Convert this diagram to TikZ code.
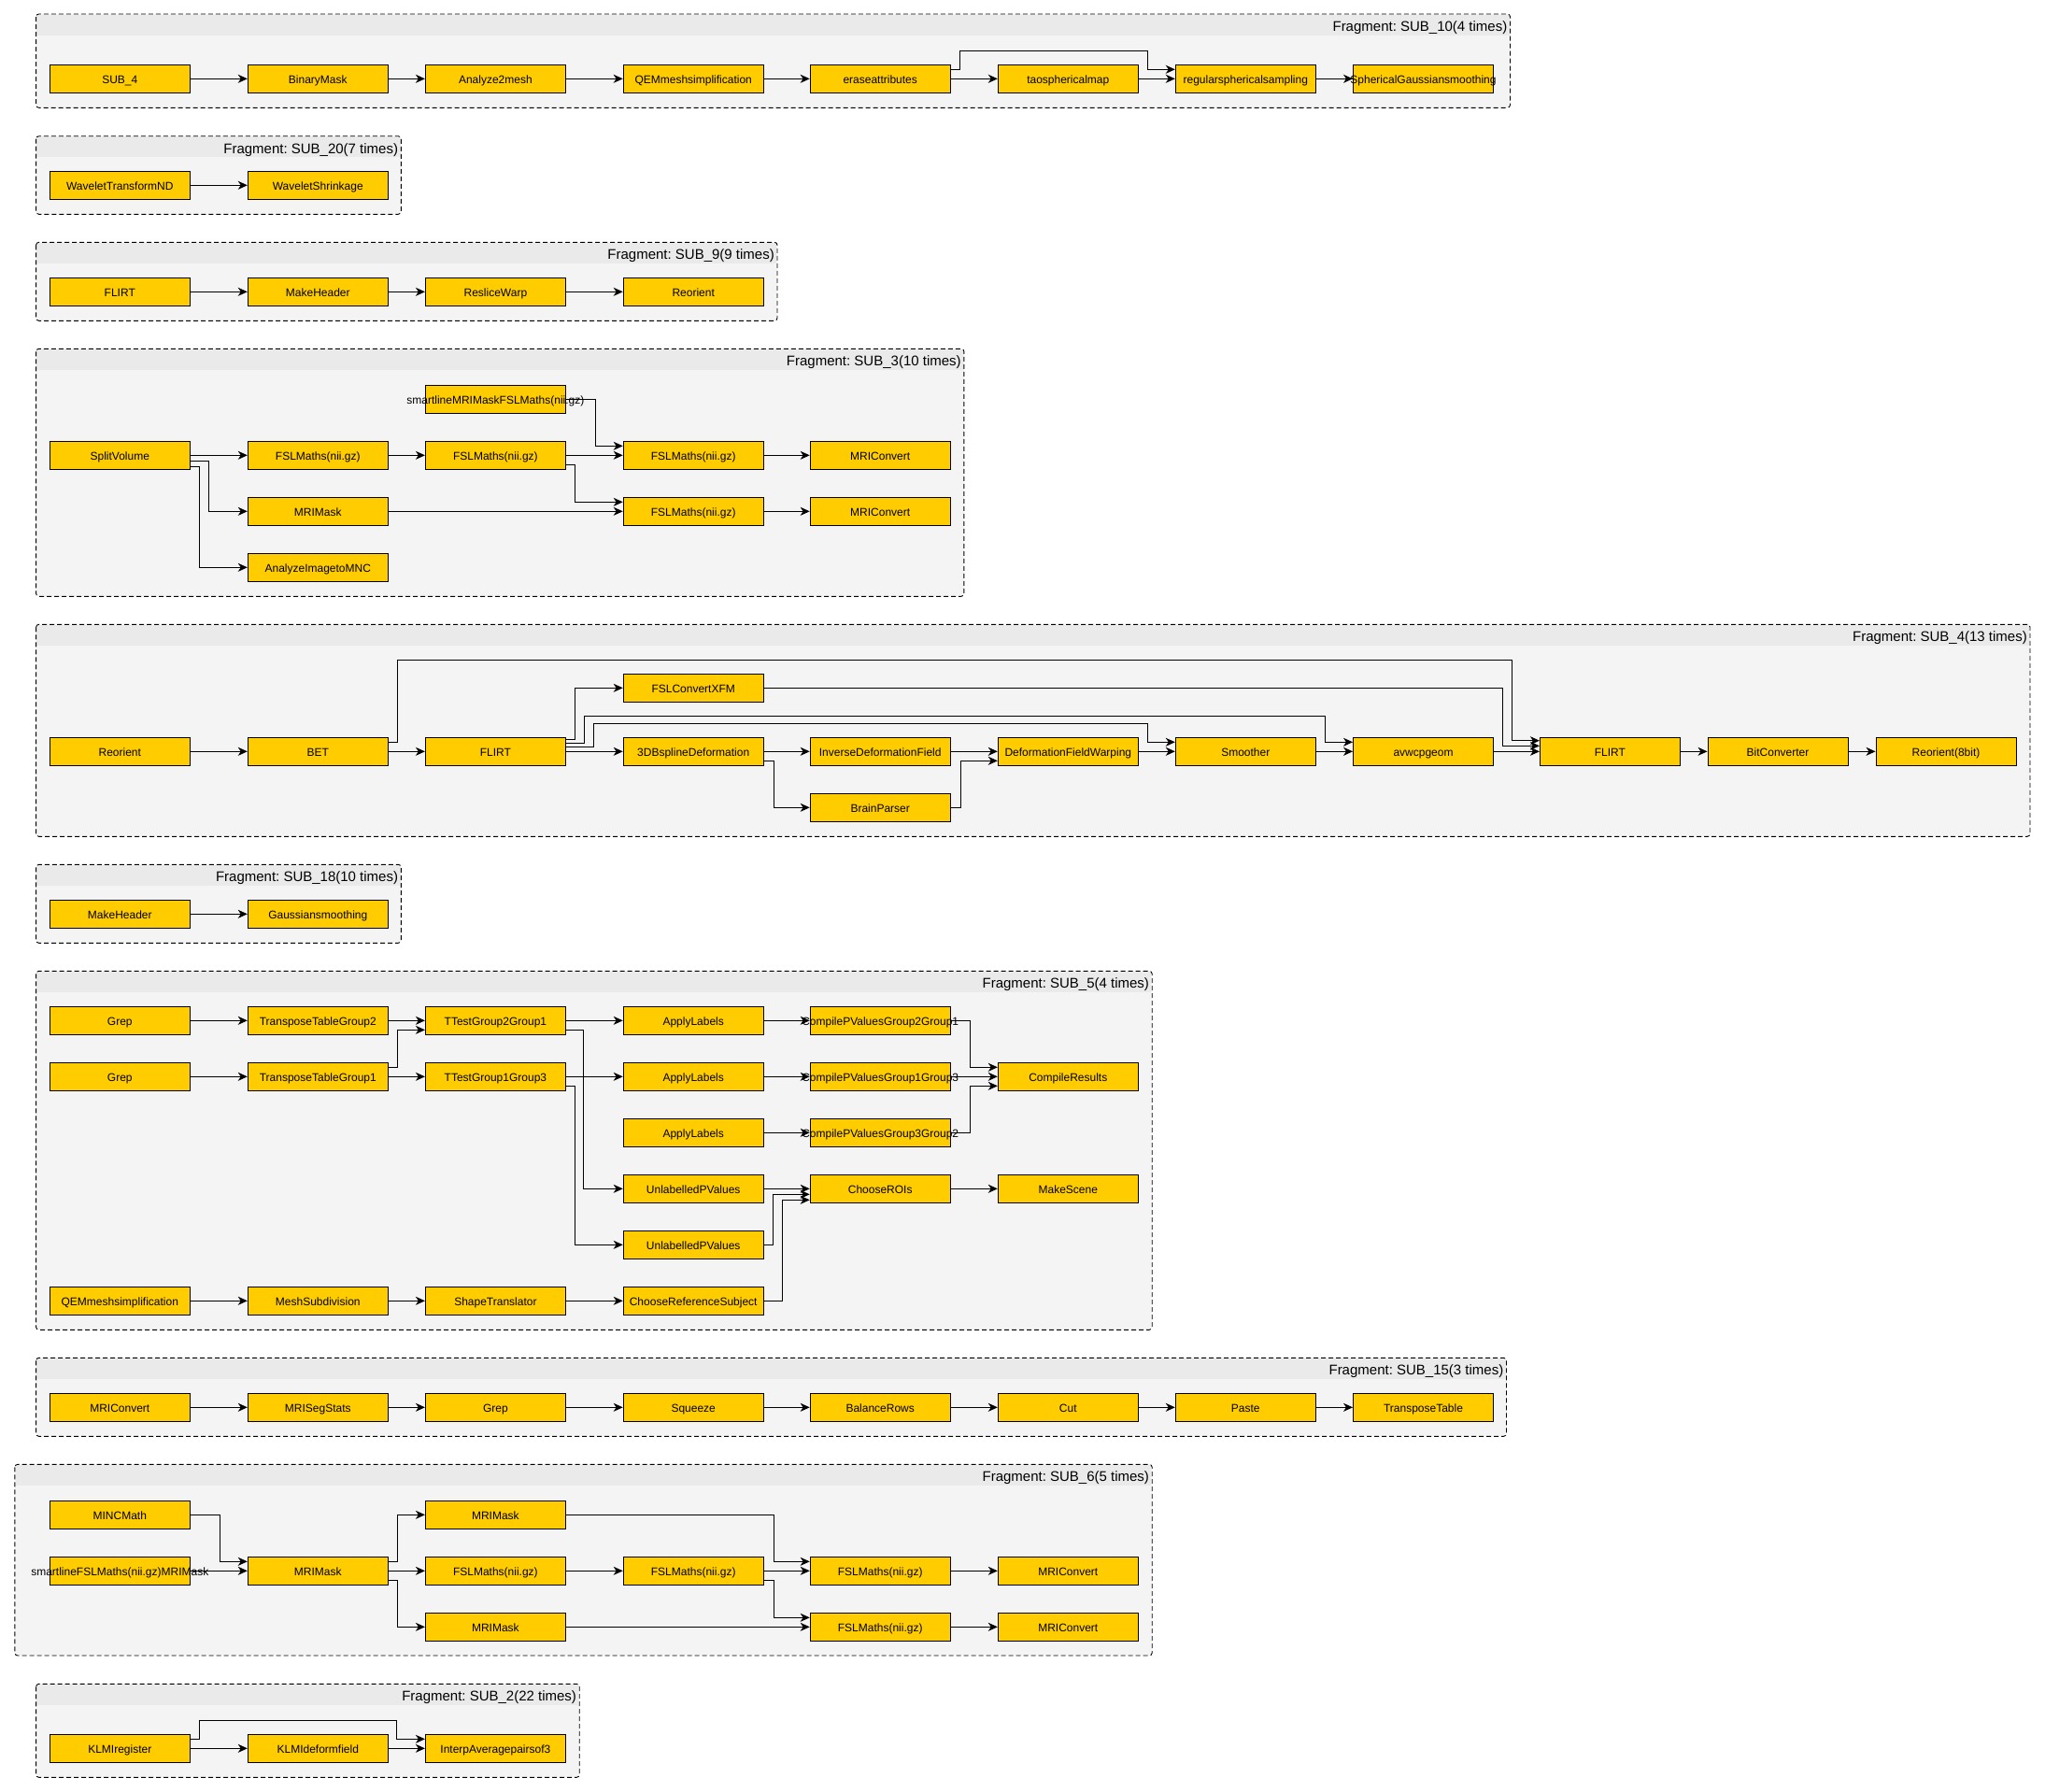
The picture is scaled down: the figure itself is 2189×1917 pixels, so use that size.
\documentclass[tikz,border=0pt]{standalone}
\usepackage{fontspec}
\setmainfont{Liberation Sans}
\usetikzlibrary{arrows.meta}
\definecolor{procfill}{HTML}{FFCC00}
\definecolor{fragfill}{HTML}{F4F4F4}
\definecolor{headfill}{HTML}{EAEAEA}
\frenchspacing

\begin{document}
\begin{tikzpicture}[x=1pt, y=1pt,
    proc/.style = {draw, line width=1pt, fill=procfill, minimum width=150pt, minimum height=30pt, inner sep=0pt,
        text height=9.4pt, text depth=0pt, font=\fontsize{12}{14}\selectfont,
        execute at begin node={\hbox to 0pt\bgroup\hss}, execute at end node={\hss\egroup}},
    flow/.style = {line width=1pt, -{Stealth[length=10pt, width=9pt, inset=3pt]}},
    fragline/.style = {draw, line width=0.9pt, dash pattern=on 5pt off 3pt, rounded corners=3pt},
    fraglbl/.style = {anchor=base east, inner sep=0pt, font=\fontsize{15}{18}\selectfont}]
    \useasboundingbox (0,0) rectangle (2189,-1917);
    % fragment frames
    \foreach \fl/\ft/\fr/\fb/\fn/\ftxt in {
        38.6/15/1616.5/115.3/hsub10/Fragment: SUB\_10(4 times),
        38.6/145.7/429.3/229.3/hsub20/Fragment: SUB\_20(7 times),
        38.6/259.3/832/343.3/hsub9/Fragment: SUB\_9(9 times),
        38.6/373.3/1031.9/638.3/hsub3/Fragment: SUB\_3(10 times),
        38.6/668.3/2173/895.3/hsub4/Fragment: SUB\_4(13 times),
        38.6/925.3/429.3/1009.3/hsub18/Fragment: SUB\_18(10 times),
        38.6/1039.3/1233.2/1423.3/hsub5/Fragment: SUB\_5(4 times),
        38.6/1453.3/1612.5/1537.3/hsub15/Fragment: SUB\_15(3 times),
        15.9/1567.3/1233.2/1772/hsub6/Fragment: SUB\_6(5 times),
        38.6/1802.3/620.2/1902.3/hsub2/Fragment: SUB\_2(22 times)}{
        \fill[fragfill, rounded corners=3pt] (\fl,-\ft) rectangle (\fr,-\fb);
        \fill[headfill] ({\fl+0.8},{-\ft-0.5}) rectangle ({\fr-0.8},{-\ft-22.5});
        \draw[fragline] (\fl,-\ft) rectangle (\fr,-\fb);
        \node[fraglbl] (\fn) at ({\fr-3},{-\ft-18.3}) {\ftxt};
    }

    % SUB_10
    \node[proc] (sub4) at (128.3,-84.3) {SUB\_4};
    \node[proc] (binmask) at (340.3,-84.3) {BinaryMask};
    \node[proc] (a2mesh) at (530.4,-84.3) {Analyze2mesh};
    \node[proc] (qema) at (742.2,-84.3) {QEMmeshsimplification};
    \node[proc] (erasea) at (942.2,-84.3) {eraseattributes};
    \node[proc] (taomap) at (1143.3,-84.3) {taosphericalmap};
    \node[proc] (regsph) at (1333.3,-84.3) {regularsphericalsampling};
    \node[proc] (sphgauss) at (1523.5,-84.3) {SphericalGaussiansmoothing};
    \draw[flow] (sub4) -- (binmask);
    \draw[flow] (binmask) -- (a2mesh);
    \draw[flow] (a2mesh) -- (qema);
    \draw[flow] (qema) -- (erasea);
    \draw[flow] (erasea) -- (taomap);
    \draw[flow] (taomap) -- (regsph);
    \draw[flow] (regsph) -- (sphgauss);
    \draw[flow] ([yshift=10pt]erasea.east) -- ++(9.8,0) |- (1228.2,-54.3) |- ([yshift=10pt]regsph.west);

    % SUB_20
    \node[proc] (wtnd) at (128.3,-198.3) {WaveletTransformND};
    \node[proc] (wshrink) at (340.3,-198.3) {WaveletShrinkage};
    \draw[flow] (wtnd) -- (wshrink);

    % SUB_9
    \node[proc] (flirta) at (128.3,-312.3) {FLIRT};
    \node[proc] (mkhdra) at (340.3,-312.3) {MakeHeader};
    \node[proc] (reslice) at (530.4,-312.3) {ResliceWarp};
    \node[proc] (reora) at (742.2,-312.3) {Reorient};
    \draw[flow] (flirta) -- (mkhdra);
    \draw[flow] (mkhdra) -- (reslice);
    \draw[flow] (reslice) -- (reora);

    % SUB_3
    \node[proc] (smarta) at (530.4,-427.3) {smartlineMRIMaskFSLMaths(nii.gz)};
    \node[proc] (splitv) at (128.3,-487.3) {SplitVolume};
    \node[proc] (fslma) at (340.3,-487.3) {FSLMaths(nii.gz)};
    \node[proc] (fslmb) at (530.4,-487.3) {FSLMaths(nii.gz)};
    \node[proc] (fslmc) at (742.2,-487.3) {FSLMaths(nii.gz)};
    \node[proc] (mricva) at (942.2,-487.3) {MRIConvert};
    \node[proc] (mrimska) at (340.3,-547.3) {MRIMask};
    \node[proc] (fslmd) at (742.2,-547.3) {FSLMaths(nii.gz)};
    \node[proc] (mricvb) at (942.2,-547.3) {MRIConvert};
    \node[proc] (aimnc) at (340.3,-607.3) {AnalyzeImagetoMNC};
    \draw[flow] (splitv) -- (fslma);
    \draw[flow] ([yshift=-6.4pt]splitv.east) -- ++(19.6,0) |- (mrimska);
    \draw[flow] ([yshift=-12.4pt]splitv.east) -- ++(10,0) |- (aimnc);
    \draw[flow] (fslma) -- (fslmb);
    \draw[flow] (fslmb) -- (fslmc);
    \draw[flow] (smarta.east) -- ++(31.6,0) |- ([yshift=10pt]fslmc.west);
    \draw[flow] ([yshift=-10pt]fslmb.east) -- ++(9.8,0) |- ([yshift=10pt]fslmd.west);
    \draw[flow] (mrimska) -- (fslmd);
    \draw[flow] (fslmc) -- (mricva);
    \draw[flow] (fslmd) -- (mricvb);

    % SUB_4
    \node[proc] (fslxfm) at (742.2,-736.3) {FSLConvertXFM};
    \node[proc] (reorb) at (128.3,-804.3) {Reorient};
    \node[proc] (bet) at (340.3,-804.3) {BET};
    \node[proc] (flirtb) at (530.4,-804.3) {FLIRT};
    \node[proc] (tdbs) at (742.2,-804.3) {3DBsplineDeformation};
    \node[proc] (invdef) at (942.2,-804.3) {InverseDeformationField};
    \node[proc] (dfwarp) at (1143.3,-804.3) {DeformationFieldWarping};
    \node[proc] (smoother) at (1333.3,-804.3) {Smoother};
    \node[proc] (avw) at (1523.5,-804.3) {avwcpgeom};
    \node[proc] (flirtc) at (1723.4,-804.3) {FLIRT};
    \node[proc] (bitconv) at (1903,-804.3) {BitConverter};
    \node[proc] (reor8) at (2083,-804.3) {Reorient(8bit)};
    \node[proc] (bparser) at (942.2,-864.3) {BrainParser};
    \draw[flow] (reorb) -- (bet);
    \draw[flow] (bet) -- (flirtb);
    \draw[flow] ([yshift=10pt]bet.east) -- ++(9.8,0) |- (1618.8,-706.3) |- ([yshift=11.6pt]flirtc.west);
    \draw[flow] ([yshift=12.6pt]flirtb.east) -- ++(9.9,0) |- (fslxfm);
    \draw[flow] ([yshift=9.3pt]flirtb.east) -- ++(19.9,0) |- (1418.6,-766.3) |- ([yshift=10pt]avw.west);
    \draw[flow] ([yshift=5pt]flirtb.east) -- ++(29.9,0) |- (1228.2,-774.3) |- ([yshift=10pt]smoother.west);
    \draw[flow] (flirtb) -- (tdbs);
    \draw[flow] (fslxfm.east) -| ([xshift=-39.4pt,yshift=6pt]flirtc.west) -- ([yshift=6pt]flirtc.west);
    \draw[flow] (tdbs) -- (invdef);
    \draw[flow] ([yshift=-10pt]tdbs.east) -- ++(10.6,0) |- (bparser);
    \draw[flow] (invdef) -- (dfwarp);
    \draw[flow] (bparser.east) -- ++(10.5,0) |- ([yshift=-10pt]dfwarp.west);
    \draw[flow] (dfwarp) -- (smoother);
    \draw[flow] (smoother) -- (avw);
    \draw[flow] (avw) -- (flirtc);
    \draw[flow] (flirtc) -- (bitconv);
    \draw[flow] (bitconv) -- (reor8);

    % SUB_18
    \node[proc] (mkhdrb) at (128.3,-978.3) {MakeHeader};
    \node[proc] (gsmooth) at (340.3,-978.3) {Gaussiansmoothing};
    \draw[flow] (mkhdrb) -- (gsmooth);

    % SUB_5
    \node[proc] (grepa) at (128.3,-1092.3) {Grep};
    \node[proc] (ttgtwo) at (340.3,-1092.3) {TransposeTableGroup2};
    \node[proc] (tttwoone) at (530.4,-1092.3) {TTestGroup2Group1};
    \node[proc] (applya) at (742.2,-1092.3) {ApplyLabels};
    \node[proc] (cpvtwoone) at (942.2,-1092.3) {CompilePValuesGroup2Group1};
    \node[proc] (grepb) at (128.3,-1152.3) {Grep};
    \node[proc] (ttgone) at (340.3,-1152.3) {TransposeTableGroup1};
    \node[proc] (ttonethree) at (530.4,-1152.3) {TTestGroup1Group3};
    \node[proc] (applyb) at (742.2,-1152.3) {ApplyLabels};
    \node[proc] (cpvonethree) at (942.2,-1152.3) {CompilePValuesGroup1Group3};
    \node[proc] (cresults) at (1143.3,-1152.3) {CompileResults};
    \node[proc] (applyc) at (742.2,-1212.3) {ApplyLabels};
    \node[proc] (cpvthreetwo) at (942.2,-1212.3) {CompilePValuesGroup3Group2};
    \node[proc] (unlpa) at (742.2,-1272.3) {UnlabelledPValues};
    \node[proc] (chrois) at (942.2,-1272.3) {ChooseROIs};
    \node[proc] (mscene) at (1143.3,-1272.3) {MakeScene};
    \node[proc] (unlpb) at (742.2,-1332.3) {UnlabelledPValues};
    \node[proc] (qemb) at (128.3,-1392.3) {QEMmeshsimplification};
    \node[proc] (meshsub) at (340.3,-1392.3) {MeshSubdivision};
    \node[proc] (shapetr) at (530.4,-1392.3) {ShapeTranslator};
    \node[proc] (chref) at (742.2,-1392.3) {ChooseReferenceSubject};
    \draw[flow] (grepa) -- (ttgtwo);
    \draw[flow] (grepb) -- (ttgone);
    \draw[flow] (ttgtwo) -- (tttwoone);
    \draw[flow] ([yshift=10pt]ttgone.east) -- ++(9.6,0) |- ([yshift=-10pt]tttwoone.west);
    \draw[flow] (ttgone) -- (ttonethree);
    \draw[flow] (tttwoone) -- (applya);
    \draw[flow] ([yshift=-10pt]tttwoone.east) -- ++(18.8,0) |- (unlpa);
    \draw[flow] (ttonethree) -- (applyb);
    \draw[flow] ([yshift=-10pt]ttonethree.east) -- ++(9.2,0) |- (unlpb);
    \draw[flow] (applya) -- (cpvtwoone);
    \draw[flow] (applyb) -- (cpvonethree);
    \draw[flow] (applyc) -- (cpvthreetwo);
    \draw[flow] (cpvtwoone.east) -- ++(20.7,0) |- ([yshift=10pt]cresults.west);
    \draw[flow] (cpvonethree) -- (cresults);
    \draw[flow] (cpvthreetwo.east) -- ++(20.7,0) |- ([yshift=-10pt]cresults.west);
    \draw[flow] (unlpa) -- (chrois);
    \draw[flow] (unlpb.east) -- ++(9.5,0) |- ([yshift=-6pt]chrois.west);
    \draw[flow] (chref.east) -- ++(19.8,0) |- ([yshift=-12pt]chrois.west);
    \draw[flow] (chrois) -- (mscene);
    \draw[flow] (qemb) -- (meshsub);
    \draw[flow] (meshsub) -- (shapetr);
    \draw[flow] (shapetr) -- (chref);

    % SUB_15
    \node[proc] (mricvc) at (128.3,-1506.3) {MRIConvert};
    \node[proc] (segstats) at (340.3,-1506.3) {MRISegStats};
    \node[proc] (grepc) at (530.4,-1506.3) {Grep};
    \node[proc] (squeeze) at (742.2,-1506.3) {Squeeze};
    \node[proc] (balrows) at (942.2,-1506.3) {BalanceRows};
    \node[proc] (cutn) at (1143.3,-1506.3) {Cut};
    \node[proc] (pasten) at (1333.3,-1506.3) {Paste};
    \node[proc] (transp) at (1523.5,-1506.3) {TransposeTable};
    \draw[flow] (mricvc) -- (segstats);
    \draw[flow] (segstats) -- (grepc);
    \draw[flow] (grepc) -- (squeeze);
    \draw[flow] (squeeze) -- (balrows);
    \draw[flow] (balrows) -- (cutn);
    \draw[flow] (cutn) -- (pasten);
    \draw[flow] (pasten) -- (transp);

    % SUB_6
    \node[proc] (mincm) at (128.3,-1621.3) {MINCMath};
    \node[proc] (smartb) at (128.3,-1681.3) {smartlineFSLMaths(nii.gz)MRIMask};
    \node[proc] (mrimskb) at (340.3,-1681.3) {MRIMask};
    \node[proc] (mrimskc) at (530.4,-1621.3) {MRIMask};
    \node[proc] (fslme) at (530.4,-1681.3) {FSLMaths(nii.gz)};
    \node[proc] (mrimskd) at (530.4,-1741.3) {MRIMask};
    \node[proc] (fslmf) at (742.2,-1681.3) {FSLMaths(nii.gz)};
    \node[proc] (fslmg) at (942.2,-1681.3) {FSLMaths(nii.gz)};
    \node[proc] (fslmh) at (942.2,-1741.3) {FSLMaths(nii.gz)};
    \node[proc] (mricvd) at (1143.3,-1681.3) {MRIConvert};
    \node[proc] (mricve) at (1143.3,-1741.3) {MRIConvert};
    \draw[flow] (mincm.east) -- ++(31.9,0) |- ([yshift=10pt]mrimskb.west);
    \draw[flow] (smartb) -- (mrimskb);
    \draw[flow] ([yshift=10pt]mrimskb.east) -- ++(9.6,0) |- (mrimskc);
    \draw[flow] (mrimskb) -- (fslme);
    \draw[flow] ([yshift=-10pt]mrimskb.east) -- ++(9.6,0) |- (mrimskd);
    \draw[flow] (mrimskc.east) -- ++(222.1,0) |- ([yshift=10pt]fslmg.west);
    \draw[flow] (fslme) -- (fslmf);
    \draw[flow] (fslmf) -- (fslmg);
    \draw[flow] ([yshift=-10pt]fslmf.east) -- ++(10.3,0) |- ([yshift=10pt]fslmh.west);
    \draw[flow] (mrimskd) -- (fslmh);
    \draw[flow] (fslmg) -- (mricvd);
    \draw[flow] (fslmh) -- (mricve);

    % SUB_2
    \node[proc] (klmreg) at (128.3,-1871.3) {KLMIregister};
    \node[proc] (klmdef) at (340.3,-1871.3) {KLMIdeformfield};
    \node[proc] (interp) at (530.4,-1871.3) {InterpAveragepairsof3};
    \draw[flow] (klmreg) -- (klmdef);
    \draw[flow] ([yshift=10pt]klmreg.east) -- ++(9.6,0) |- (424.9,-1841.7) |- ([yshift=10pt]interp.west);
    \draw[flow] (klmdef) -- (interp);
\end{tikzpicture}
\end{document}
